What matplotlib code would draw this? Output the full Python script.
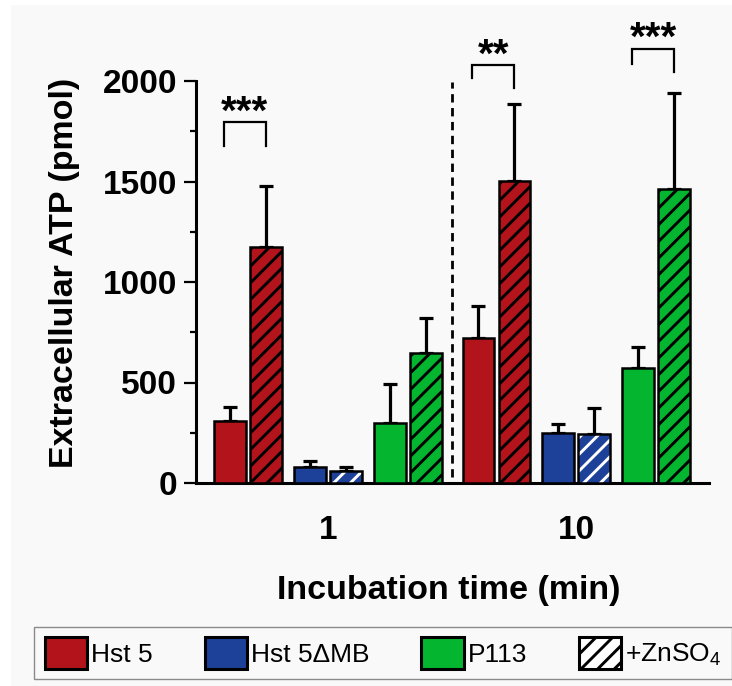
"""Extracellular ATP release, grouped bars with +ZnSO4 hatched bars."""
import numpy as np
import matplotlib
matplotlib.use("Agg")
import matplotlib.pyplot as plt
from matplotlib.patches import Patch, Rectangle

plt.rcParams["font.family"] = ["Liberation Sans", "DejaVu Sans"]
plt.rcParams["mathtext.fontset"] = "custom"
plt.rcParams["mathtext.rm"] = "Liberation Sans"
plt.rcParams["mathtext.default"] = "regular"
plt.rcParams["hatch.linewidth"] = 2.1

# data
times = ["1", "10"]
peptides = ["Hst 5", "Hst 5\u0394MB", "P113"]
colors = ["#B3131A", "#1D4099", "#03B52F"]
hatch_colors = ["black", "white", "black"]

# rows: time, columns: peptide; (no zinc, +ZnSO4)
mean_plain = np.array([[310, 81, 297], [723, 249, 572]])
mean_zinc = np.array([[1173, 61, 645], [1504, 245, 1463]])
err_plain = np.array([[68, 28, 195], [159, 43, 106]])
err_zinc = np.array([[305, 20, 177], [382, 127, 476]])

# significance (time index, peptide index, stars)
sig = [(0, 0, "***"), (1, 0, "**"), (1, 2, "***")]
sig_top = [1796, 2081, 2161]
sig_legs = [(1677, 1677), (2015, 1967), (2085, 2045)]

# layout
time_step = 6.9
pep_step = 2.22
zn_step = 1.0
width = 0.875
BG = "#F9F9F9"

fig = plt.figure(figsize=(7.32, 6.86), dpi=100, facecolor="white")
fig.patches.append(Rectangle((11 / 732, 0), 1, 1 - 5 / 686, transform=fig.transFigure,
                             facecolor=BG, edgecolor="none", zorder=-10))
ax = fig.add_axes([196 / 732, 1 - 483 / 686, 513 / 732, 402 / 686])
ax.set_facecolor("none")

centers = []
for ti in range(len(times)):
    for pi in range(len(peptides)):
        x0 = ti * time_step + pi * pep_step
        x1 = x0 + zn_step
        centers += [x0, x1]
        # plain bar
        ax.errorbar(x0, mean_plain[ti, pi], yerr=[[0], [err_plain[ti, pi]]],
                    color="black", lw=2.3, capsize=5, capthick=2.3, zorder=2)
        ax.bar(x0, mean_plain[ti, pi], width, color=colors[pi],
               edgecolor="black", lw=1.8, zorder=3)
        # zinc bar, hatch layer then outline
        ax.errorbar(x1, mean_zinc[ti, pi], yerr=[[0], [err_zinc[ti, pi]]],
                    color="black", lw=2.3, capsize=5, capthick=2.3, zorder=2)
        ax.bar(x1, mean_zinc[ti, pi], width, color=colors[pi],
               edgecolor=hatch_colors[pi], lw=0, hatch="//", zorder=3)
        ax.bar(x1, mean_zinc[ti, pi], width, color="none",
               edgecolor="black", lw=1.8, zorder=4)

# separator between time points
sep_x = (centers[5] + centers[6]) / 2
ax.plot([sep_x, sep_x], [30, 1995], color="black", lw=2, ls=(0, (3, 2)), zorder=1)

# significance brackets
for (ti, pi, stars), top, (l_leg, r_leg) in zip(sig, sig_top, sig_legs):
    xl = ti * time_step + pi * pep_step - 0.17
    xr = ti * time_step + pi * pep_step + zn_step
    ax.plot([xl, xl, xr, xr], [l_leg, top, top, r_leg], color="black",
            lw=1.6, clip_on=False, solid_joinstyle="miter")
    ax.text((xl + xr) / 2, top - 8, stars, ha="center", va="baseline",
            fontsize=29, fontweight="bold", clip_on=False)

# axes styling
ax.set_xlim(-0.944, 13.31)
ax.set_ylim(0, 2000)
ax.set_yticks(np.arange(0, 2001, 500))
ax.set_yticks(np.arange(0, 2001, 250), minor=True)
group_centers = [ti * time_step + (2 * pep_step + zn_step) / 2 for ti in range(len(times))]
ax.set_xticks(group_centers)
ax.set_xticklabels(times)
for s in ["top", "right"]:
    ax.spines[s].set_visible(False)
for s in ["left", "bottom"]:
    ax.spines[s].set_linewidth(2.2)
ax.tick_params(axis="y", which="major", length=8.6, width=1.6, pad=5,
               labelsize=24)
ax.tick_params(axis="y", which="minor", length=4, width=1.6)
ax.tick_params(axis="x", length=0, pad=23, labelsize=24)
for lab in ax.get_xticklabels() + ax.get_yticklabels():
    lab.set_fontweight("bold")

ax.set_ylabel("Extracellular ATP (pmol)", fontsize=24.5, fontweight="bold")
ax.yaxis.set_label_coords(-0.226, 0.5236)
ax.set_xlabel("Incubation time (min)", fontsize=24.5, fontweight="bold")
ax.xaxis.set_label_coords(0.493, -0.23)

handles = [Patch(facecolor=c, edgecolor="black", lw=2.2) for c in colors]
handles.append(Patch(facecolor="white", edgecolor="black", hatch="//", lw=2.2))
labels = peptides + ["+ZnSO$_4$"]
leg = fig.legend(handles, labels, loc="upper left", ncol=4,
                 bbox_to_anchor=(34.3 / 732, 1 - 626.7 / 686), borderaxespad=0,
                 fontsize=19, handlelength=1.6, handleheight=1.45,
                 handletextpad=0.15, columnspacing=1.97, borderpad=0.4,
                 fancybox=False, framealpha=1, facecolor=BG, edgecolor="#8A8A8A")
leg.get_frame().set_linewidth(1.0)

fig.savefig("out.png", dpi=100, facecolor=fig.get_facecolor())
